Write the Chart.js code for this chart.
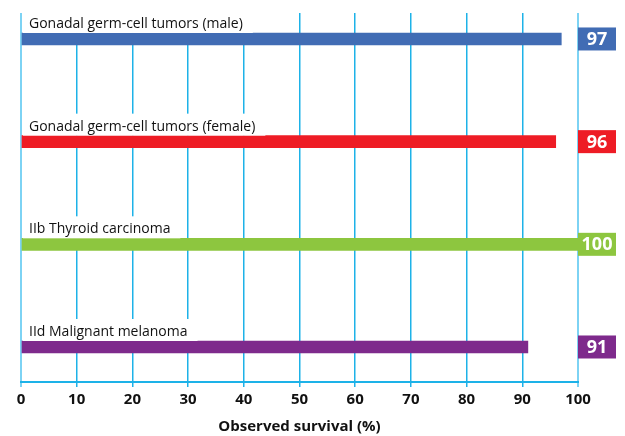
<!DOCTYPE html>
<html>
<head>
<meta charset="utf-8">
<script src="https://cdn.jsdelivr.net/npm/chart.js@4"></script>
<style>
  html, body { margin: 0; padding: 0; background: #fff; }
  #wrap { width: 625px; height: 436px; }
</style>
</head>
<body>
<div id="wrap"><canvas id="chart"></canvas></div>
<script>
// data
const categories = [
  'Gonadal germ-cell tumors (male)',
  'Gonadal germ-cell tumors (female)',
  'IIb Thyroid carcinoma',
  'IId Malignant melanoma'
];
const survival = [97, 96, 100, 91];
const barColors = ['#416cb4', '#ee1c25', '#8dc63f', '#7e2a8c'];
const xTicks = [0, 10, 20, 30, 40, 50, 60, 70, 80, 90, 100];

const FONT = '"Open Sans", "Noto Sans", sans-serif';

// category names above each bar, on a white patch that hides the grid
const labelPlugin = {
  id: 'barLabels',
  afterDatasetsDraw(chart) {
    const ctx = chart.ctx;
    const area = chart.chartArea;
    const meta = chart.getDatasetMeta(0);
    ctx.save();
    ctx.font = '14px ' + FONT;
    meta.data.forEach((bar, i) => {
      const top = bar.y - bar.height / 2;
      const w = ctx.measureText(categories[i]).width;
      ctx.fillStyle = '#fff';
      ctx.fillRect(area.left + 2, top - 22, w + 16, 22);
      ctx.fillStyle = '#111';
      ctx.textBaseline = 'alphabetic';
      ctx.textAlign = 'left';
      ctx.fillText(categories[i], area.left + 8, top - 5);
    });
    // value badges at the right
    ctx.font = 'bold 18px ' + FONT;
    meta.data.forEach((bar, i) => {
      const x0 = area.right;
      ctx.fillStyle = barColors[i];
      ctx.fillRect(x0, bar.y - 11.5, 38, 23);
      ctx.fillStyle = '#fff';
      ctx.textAlign = 'center';
      ctx.textBaseline = 'middle';
      ctx.fillText(String(survival[i]), x0 + 19, bar.y + 1);
    });
    ctx.restore();
  }
};

new Chart(document.getElementById('chart'), {
  type: 'bar',
  data: {
    datasets: [{
      data: survival.map((v, i) => ({ x: v, y: i })),
      backgroundColor: barColors,
      barThickness: 12,
      borderWidth: 0
    }]
  },
  options: {
    indexAxis: 'y',
    responsive: true,
    maintainAspectRatio: false,
    animation: false,
    layout: { padding: { left: 21, right: 47, top: 13, bottom: 0 } },
    plugins: { legend: { display: false }, tooltip: { enabled: false } },
    scales: {
      x: {
        type: 'linear',
        min: 0,
        max: 100,
        afterBuildTicks: (s) => { s.ticks = xTicks.map(v => ({ value: v })); },
        afterFit: (s) => { s.height = 54; },
        grid: {
          color: (c) => (c.tick && (c.tick.value === 0 || c.tick.value === 100)) ? '#7dd3f4' : '#1db2e8',
          lineWidth: (c) => (c.tick && (c.tick.value === 0 || c.tick.value === 100)) ? 2 : 1.5,
          tickLength: 5
        },
        border: { color: '#1db2e8', width: 2 },
        ticks: {
          color: '#111',
          padding: 4,
          font: { family: FONT, size: 15, weight: 'bold' }
        },
        title: {
          display: true,
          text: 'Observed survival (%)',
          color: '#111',
          font: { family: FONT, size: 15, weight: 'bold' },
          padding: { top: 2, bottom: 0 }
        }
      },
      y: {
        type: 'linear',
        display: false,
        offset: false,
        reverse: true,
        min: -0.253,
        max: 3.341
      }
    }
  },
  plugins: [labelPlugin]
});
</script>
</body>
</html>
